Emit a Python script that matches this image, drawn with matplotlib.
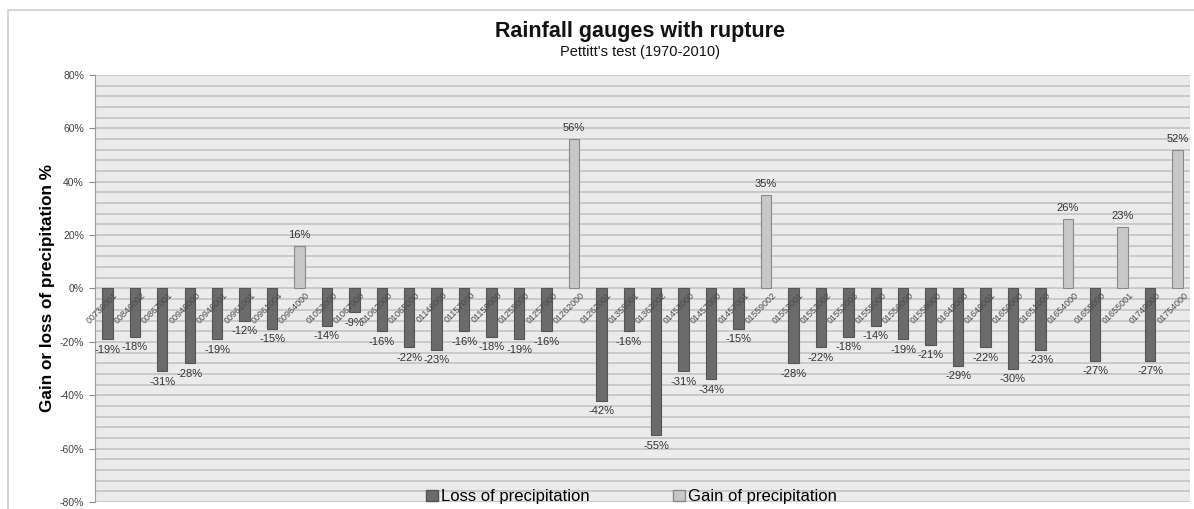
import matplotlib
matplotlib.use("Agg")
import matplotlib.pyplot as plt
from matplotlib.patches import Rectangle, Patch
from matplotlib.ticker import MultipleLocator, FuncFormatter

plt.rcParams['font.family'] = ['Liberation Sans', 'DejaVu Sans']

# station codes (x axis) and change in precipitation (%)
stations = ["00736001", "00846002", "00867001", "00946000", "00946001",
            "00961001", "00961004", "00964000", "01053000", "01067000",
            "01062000", "01065000", "01146000", "01157000", "01159000",
            "01255000", "01257000", "01262000", "01262001", "01355001",
            "01363002", "01453000", "01457000", "01457001", "01559002",
            "01553001", "01553002", "01553003", "01555000", "01556000",
            "01559000", "01649000", "01649001", "01650000", "01651000",
            "01654000", "01655000", "01655001", "01749000", "01754000"]
change = [-19, -18, -31, -28, -19, -12, -15, 16, -14, -9,
          -16, -22, -23, -16, -18, -19, -16, 56, -42, -16,
          -55, -31, -34, -15, 35, -28, -22, -18, -14, -19,
          -21, -29, -22, -30, -23, 26, -27, 23, -27, 52]

loss_color = "#6b6b6b"
gain_color = "#c8c8c8"

fig = plt.figure(figsize=(11.94, 5.09), dpi=100)
ax = fig.add_axes([0.0796, 0.0138, 0.9170, 0.8389])
ax.set_facecolor("#ebebeb")

x = list(range(len(stations)))
colors = [gain_color if v > 0 else loss_color for v in change]
edges = ["#8a8a8a" if v > 0 else "#555555" for v in change]
ax.bar(x, change, width=0.38, color=colors, edgecolor=edges, linewidth=0.8, zorder=3)

# data labels
for i, v in enumerate(change):
    if v > 0:
        ax.text(i, v + 2.2, f"{v}%", ha="center", va="bottom", fontsize=8, color="#333333", zorder=4)
    else:
        ax.text(i, v - 2.0, f"{v}%", ha="center", va="top", fontsize=8, color="#333333", zorder=4)

# station labels next to the zero line
for i, s in enumerate(stations):
    ax.text(i + 0.22, -0.8, s, rotation=45, rotation_mode="anchor", ha="right", va="top",
            fontsize=6.5, color="#4a4a4a", zorder=4)

ax.set_xlim(-0.45, len(stations) - 0.55)
ax.set_ylim(-80, 80)
ax.set_xticks([])
ax.yaxis.set_major_locator(MultipleLocator(20))
ax.yaxis.set_minor_locator(MultipleLocator(4))
ax.yaxis.set_major_formatter(FuncFormatter(lambda v, p: f"{int(v)}%"))
ax.tick_params(axis="y", which="major", labelsize=7.5, labelcolor="#404040", length=4, color="#888888", pad=4)
ax.tick_params(axis="y", which="minor", length=0)
ax.grid(axis="y", which="both", color="#c4c4c4", linewidth=1.2, zorder=0)
for side in ["top", "right", "bottom"]:
    ax.spines[side].set_visible(False)
ax.spines["left"].set_color("#9a9a9a")

ax.set_ylabel("Gain or loss of precipitation %", fontsize=12.3, fontweight="bold", labelpad=3)

fig.text(0.536, 0.939, "Rainfall gauges with rupture", ha="center", va="center",
         fontsize=15.5, fontweight="bold", color="#111111")
fig.text(0.536, 0.897, "Pettitt's test (1970-2010)", ha="center", va="center",
         fontsize=10.5, color="#111111")

handles = [Patch(facecolor=loss_color, edgecolor="#555555", label="Loss of precipitation"),
           Patch(facecolor=gain_color, edgecolor="#8a8a8a", label="Gain of precipitation")]
fig.legend(handles=handles, loc="center", bbox_to_anchor=(0.529, 0.024), ncol=2, frameon=False,
           fontsize=12, handlelength=0.7, handleheight=0.7, handletextpad=0.2, columnspacing=5)

# outer chart frame
fig.patches.append(Rectangle((8 / 1194, -0.1), 1.2, 1.08, transform=fig.transFigure,
                             fill=False, edgecolor="#cfcfcf", linewidth=1.2))

fig.savefig("out.png", dpi=100)
